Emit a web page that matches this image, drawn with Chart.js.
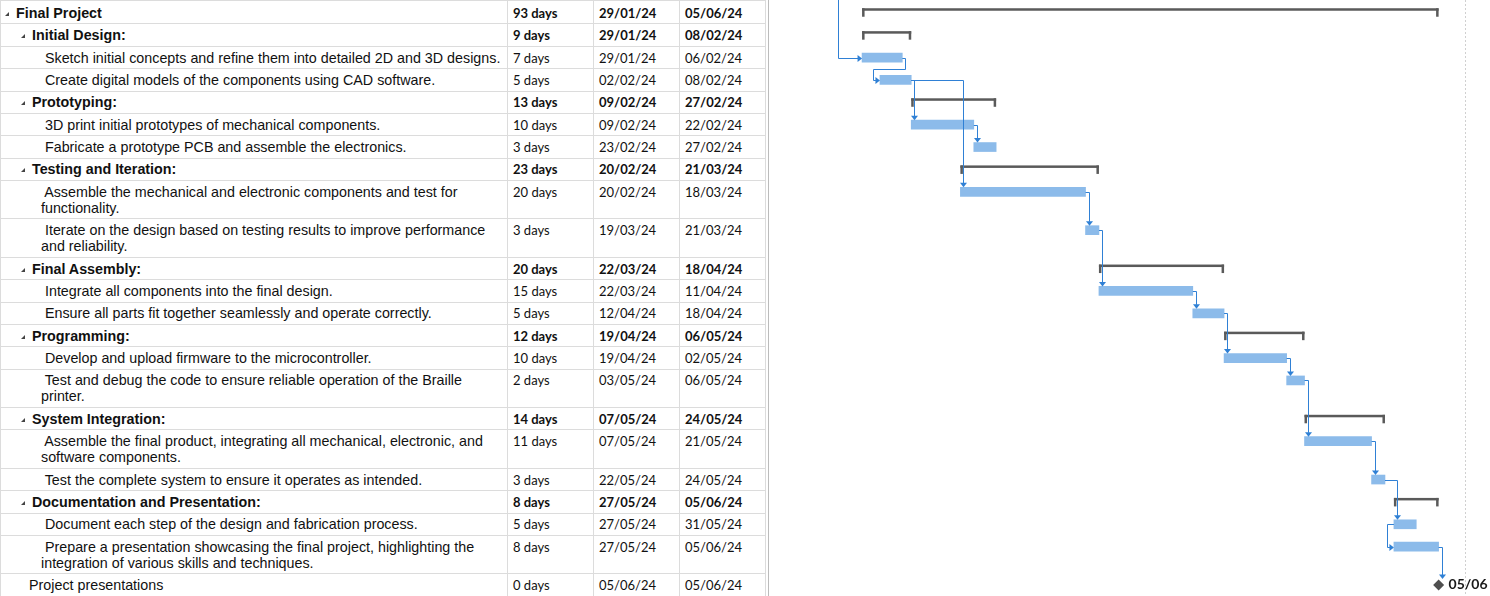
<!DOCTYPE html>
<html>
<head>
<meta charset="utf-8">
<script src="https://cdn.jsdelivr.net/npm/chart.js"></script>
<style>
  body { margin: 0; background: #fff; width: 1490px; height: 596px; overflow: hidden; position: relative; }
  #sheet { position: absolute; left: 0; top: 0; border-collapse: collapse; table-layout: fixed; width: 766px; }
  #sheet td { border: 1px solid #dcdcdc; padding: 2.7px 4px 2.7px 5px; line-height: 16px; vertical-align: top;
              white-space: pre; overflow: hidden; color: #111; }
  #sheet tr:first-child td { padding-top: 3.8px; }
  td.name { font-family: "Liberation Sans", Arial, sans-serif; font-size: 14.3px; }
  td.num { font-family: Lato, sans-serif; font-size: 13px; }
  td.bold { font-weight: bold; }
  .tri { display: inline-block; width: 0; height: 0; border-left: 4px solid transparent; border-bottom: 4px solid #444;
         margin-right: 7px; vertical-align: 2px; }
  #sep { position: absolute; left: 768px; top: 0; width: 1px; height: 596px; background: #bcbcbc; }
  #gantt { position: absolute; left: 770px; top: 0; }
</style>
</head>
<body>
<table id="sheet">
  <colgroup><col style="width:507px"><col style="width:86px"><col style="width:86px"><col style="width:86px"></colgroup>
  <tbody></tbody>
</table>
<div id="sep"></div>
<canvas id="gantt" width="720" height="596"></canvas>
<script>
// task table, as shown in the sheet
const taskNames = [
  "Final Project",
  "Initial Design:",
  " Sketch initial concepts and refine them into detailed 2D and 3D designs.",
  " Create digital models of the components using CAD software.",
  "Prototyping:",
  " 3D print initial prototypes of mechanical components.",
  " Fabricate a prototype PCB and assemble the electronics.",
  "Testing and Iteration:",
  " Assemble the mechanical and electronic components and test for\nfunctionality.",
  " Iterate on the design based on testing results to improve performance\nand reliability.",
  "Final Assembly:",
  " Integrate all components into the final design.",
  " Ensure all parts fit together seamlessly and operate correctly.",
  "Programming:",
  " Develop and upload firmware to the microcontroller.",
  " Test and debug the code to ensure reliable operation of the Braille\nprinter.",
  "System Integration:",
  " Assemble the final product, integrating all mechanical, electronic, and\nsoftware components.",
  " Test the complete system to ensure it operates as intended.",
  "Documentation and Presentation:",
  " Document each step of the design and fabrication process.",
  " Prepare a presentation showcasing the final project, highlighting the\nintegration of various skills and techniques.",
  "Project presentations"
];
const levels = [0, 1, 2, 2, 1, 2, 2, 1, 2, 2, 1, 2, 2, 1, 2, 2, 1, 2, 2, 1, 2, 2, 1];
const durations = ["93 days", "9 days", "7 days", "5 days", "13 days", "10 days", "3 days", "23 days", "20 days",
  "3 days", "20 days", "15 days", "5 days", "12 days", "10 days", "2 days", "14 days", "11 days", "3 days",
  "8 days", "5 days", "8 days", "0 days"];
const starts = ["29/01/24", "29/01/24", "29/01/24", "02/02/24", "09/02/24", "09/02/24", "23/02/24", "20/02/24",
  "20/02/24", "19/03/24", "22/03/24", "22/03/24", "12/04/24", "19/04/24", "19/04/24", "03/05/24", "07/05/24",
  "07/05/24", "22/05/24", "27/05/24", "27/05/24", "27/05/24", "05/06/24"];
const finishes = ["05/06/24", "08/02/24", "06/02/24", "08/02/24", "27/02/24", "22/02/24", "27/02/24", "21/03/24",
  "18/03/24", "21/03/24", "18/04/24", "11/04/24", "18/04/24", "06/05/24", "02/05/24", "06/05/24", "24/05/24",
  "21/05/24", "24/05/24", "05/06/24", "31/05/24", "05/06/24", "05/06/24"];
// [predecessor row, successor row, type]; null = link coming from a task above the view
const links = [
  [null, 2, "FS"], [2, 3, "FS"], [3, 5, "FS"], [3, 8, "FS"], [5, 6, "FS"], [8, 9, "FS"], [9, 11, "FS"],
  [11, 12, "FS"], [12, 14, "FS"], [14, 15, "FS"], [15, 17, "FS"], [17, 18, "FS"], [18, 20, "FS"],
  [20, 21, "SS"], [21, 22, "FS"]
];
// visible part of the timescale, in days from the project start
const viewFrom = -20.6, viewTo = 140.5;
const pageBreakDay = 135;

const taskIndent = [12, 28, 40];
const base = parseDate(starts[0]);
function parseDate(s) {
  const [d, m, y] = s.split('/').map(Number);
  return Date.UTC(2000 + y, m - 1, d) / 864e5;
}
const dayOf = s => parseDate(s) - base;
const isSummary = i => i + 1 < levels.length && levels[i + 1] > levels[i];
const isMilestone = i => durations[i] === "0 days";

// build the sheet
const tbody = document.querySelector('#sheet tbody');
taskNames.forEach((name, i) => {
  const tr = tbody.insertRow();
  const sum = isSummary(i);
  const c0 = tr.insertCell();
  c0.className = 'name' + (sum ? ' bold' : '');
  if (sum) {
    c0.style.paddingLeft = (4 + 16 * levels[i]) + 'px';
    const t = document.createElement('span');
    t.className = 'tri';
    c0.appendChild(t);
  } else {
    c0.style.paddingLeft = taskIndent[levels[i]] + 'px';
  }
  c0.appendChild(document.createTextNode(name));
  [durations[i], starts[i], finishes[i]].forEach(v => {
    const c = tr.insertCell();
    c.className = 'num' + (sum ? ' bold' : '');
    c.textContent = v;
  });
});

// row centres for the gantt pane come from the laid-out sheet
const rows = Array.from(tbody.rows).map((tr, i) => {
  const r = tr.getBoundingClientRect();
  const h = r.height;
  return {
    y: r.top + (h > 30 ? 11.2 : h / 2),
    start: dayOf(starts[i]),
    end: dayOf(finishes[i]) + 1,
    summary: isSummary(i),
    milestone: isMilestone(i)
  };
});

const taskBars = [];
const milestones = [];
rows.forEach((r, i) => {
  if (r.summary) return;
  if (r.milestone) milestones.push({x: r.end, y: r.y, label: finishes[i].slice(0, 5)});
  else taskBars.push({x: [r.start, r.end], y: r.y});
});

const linkColor = '#2f80d5';

function arrowDown(ctx, x, y) {
  ctx.beginPath();
  ctx.moveTo(x, y);
  ctx.lineTo(x - 3.5, y - 4.5);
  ctx.lineTo(x + 3.5, y - 4.5);
  ctx.closePath();
  ctx.fill();
}
function arrowRight(ctx, x, y) {
  ctx.beginPath();
  ctx.moveTo(x, y);
  ctx.lineTo(x - 4.5, y - 3.5);
  ctx.lineTo(x - 4.5, y + 3.5);
  ctx.closePath();
  ctx.fill();
}
const px = v => Math.round(v) + 0.5;

const ganttDecor = {
  id: 'ganttDecor',
  beforeDatasetsDraw(chart) {
    const {ctx, chartArea, scales: {x, y}} = chart;
    ctx.save();
    ctx.strokeStyle = '#d0d0d0';
    ctx.setLineDash([2, 2]);
    ctx.lineWidth = 1;
    const bx = px(x.getPixelForValue(pageBreakDay));
    ctx.beginPath();
    ctx.moveTo(bx, chartArea.top);
    ctx.lineTo(bx, chartArea.bottom);
    ctx.stroke();
    ctx.restore();

    // summary brackets
    ctx.save();
    ctx.fillStyle = '#5a5a5a';
    rows.forEach(r => {
      if (!r.summary) return;
      const x0 = x.getPixelForValue(r.start), x1 = x.getPixelForValue(r.end);
      const yc = y.getPixelForValue(r.y);
      ctx.fillRect(x0, yc - 4, x1 - x0, 2.5);
      ctx.fillRect(x0, yc - 4, 2.5, 8.5);
      ctx.fillRect(x1 - 2.5, yc - 4, 2.5, 8.5);
    });
    ctx.restore();
  },
  afterDatasetsDraw(chart) {
    const {ctx, scales: {x, y}} = chart;
    ctx.save();
    ctx.strokeStyle = linkColor;
    ctx.fillStyle = linkColor;
    ctx.lineWidth = 1;
    ctx.lineJoin = 'round';
    links.forEach(([p, s, type]) => {
      const succ = rows[s];
      const sx = x.getPixelForValue(succ.milestone ? succ.end : succ.start);
      const sy = y.getPixelForValue(succ.y);
      const sTop = sy - (succ.milestone ? 6 : 4.5);
      ctx.beginPath();
      if (p === null) {
        const lx = px(sx - 24);
        ctx.moveTo(lx, 0);
        ctx.lineTo(lx, px(sy));
        ctx.lineTo(sx - 4, px(sy));
        ctx.stroke();
        arrowRight(ctx, sx, px(sy));
        return;
      }
      const pred = rows[p];
      const py = px(y.getPixelForValue(pred.y));
      if (type === 'SS') {
        const ps = x.getPixelForValue(pred.start);
        const lx = px(ps - 7);
        ctx.moveTo(ps, py);
        ctx.lineTo(lx, py);
        ctx.lineTo(lx, px(sy));
        ctx.lineTo(sx - 4, px(sy));
        ctx.stroke();
        arrowRight(ctx, sx, px(sy));
        return;
      }
      const pe = x.getPixelForValue(pred.end);
      const vx = px(sx + 3);
      if (vx >= pe) {
        ctx.moveTo(pe, py);
        ctx.lineTo(vx, py);
        ctx.lineTo(vx, sTop - 4);
        ctx.stroke();
        arrowDown(ctx, vx, sTop);
      } else {
        const mid = px((py + sy) / 2);
        const rx = px(pe + 3), lx = px(sx - 7);
        ctx.moveTo(pe, py);
        ctx.lineTo(rx, py);
        ctx.lineTo(rx, mid);
        ctx.lineTo(lx, mid);
        ctx.lineTo(lx, px(sy));
        ctx.lineTo(sx - 4, px(sy));
        ctx.stroke();
        arrowRight(ctx, sx, px(sy));
      }
    });
    ctx.restore();

    // milestone date label
    ctx.save();
    ctx.fillStyle = '#1a1a1a';
    ctx.font = 'bold 14px Lato, sans-serif';
    ctx.textBaseline = 'middle';
    milestones.forEach(m => {
      ctx.fillText(m.label, x.getPixelForValue(m.x) + 10, y.getPixelForValue(m.y) - 1);
    });
    ctx.restore();
  }
};

new Chart(document.getElementById('gantt'), {
  type: 'bar',
  data: {
    datasets: [
      {
        type: 'bar',
        indexAxis: 'y',
        data: taskBars,
        backgroundColor: '#8cbbea',
        barThickness: 9,
        borderWidth: 0,
        grouped: false,
        clip: false
      },
      {
        type: 'scatter',
        data: milestones,
        pointStyle: 'rectRot',
        pointRadius: 5.5,
        backgroundColor: '#4f4f4f',
        borderWidth: 0,
        clip: false
      }
    ]
  },
  options: {
    responsive: false,
    animation: false,
    events: [],
    layout: { padding: 0, autoPadding: false },
    plugins: { legend: { display: false }, tooltip: { enabled: false } },
    scales: {
      x: { type: 'linear', display: false, min: viewFrom, max: viewTo, offset: false },
      y: { type: 'linear', display: false, min: 0, max: 596, reverse: true, offset: false }
    }
  },
  plugins: [ganttDecor]
});
</script>
</body>
</html>
